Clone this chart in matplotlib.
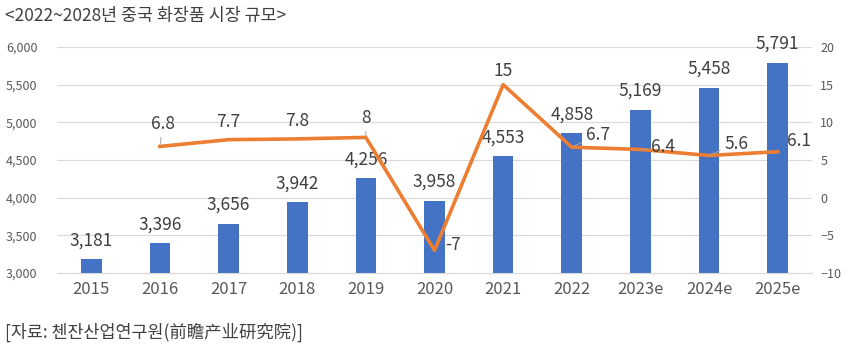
import matplotlib.pyplot as plt
import numpy as np

plt.rcParams['font.family'] = ['Noto Sans CJK KR', 'DejaVu Sans']

# 시장 규모 (억 위안) 와 성장률 (%)
years = ['2015', '2016', '2017', '2018', '2019', '2020', '2021', '2022', '2023e', '2024e', '2025e']
market = [3181, 3396, 3656, 3942, 4256, 3958, 4553, 4858, 5169, 5458, 5791]
growth = [None, 6.8, 7.7, 7.8, 8, -7, 15, 6.7, 6.4, 5.6, 6.1]

fig = plt.figure(figsize=(8.47, 3.52), dpi=100)
ax = fig.add_axes([0.0673, 0.2244, 0.8914, 0.6421])
x = np.arange(len(years))

ax.bar(x, market, width=0.3, color='#4472C4', zorder=2)
ax.set_ylim(3000, 6000)
ax.set_yticks(range(3000, 6001, 500))
ax.set_yticklabels([f'{v:,}' for v in range(3000, 6001, 500)])
ax.set_xlim(-0.5, len(years) - 0.5)
ax.set_xticks(x)
ax.set_xticklabels(years, fontsize=12, color='#595959')
ax.grid(axis='y', color='#D9D9D9', linewidth=0.8, zorder=0)
ax.tick_params(axis='y', labelsize=9, colors='#595959', length=0, pad=14)
ax.tick_params(axis='x', length=0, pad=6)
for s in ax.spines.values():
    s.set_visible(False)
ax.spines['bottom'].set_visible(True)
ax.spines['bottom'].set_color('#D9D9D9')

for xi, v in zip(x, market):
    ax.annotate(f'{v:,}', (xi, v), xytext=(0, 13.5), textcoords='offset points',
                ha='center', va='center', fontsize=12.5, color='#404040')

ax2 = ax.twinx()
ax2.set_ylim(-10, 20)
ax2.set_yticks(range(-10, 21, 5))
ax2.tick_params(axis='y', labelsize=9, colors='#595959', length=0, pad=6)
for s in ax2.spines.values():
    s.set_visible(False)

gx = [xi for xi, g in zip(x, growth) if g is not None]
gy = [g for g in growth if g is not None]
ax2.plot(gx, gy, color='#ED7D31', linewidth=2.6, zorder=3)

# 라벨 위치 (points), 지시선 여부
offsets = [(2, 16), (0, 13), (0, 13), (0, 14), (13.5, 4), (0, 10), (19, 9), (16.5, 1.5), (19.5, 8.6), (15, 8)]
leaders = [True, False, False, True, False, False, True, True, True, False]
for xi, g, off, ld in zip(gx, gy, offsets, leaders):
    arrow = dict(arrowstyle='-', color='#A6A6A6', lw=0.7, shrinkA=1, shrinkB=1) if ld else None
    ax2.annotate(f'{g:g}', (xi, g), xytext=off, textcoords='offset points',
                 ha='center', va='center', fontsize=12.5, color='#404040',
                 arrowprops=arrow, zorder=4)

fig.text(0.006, 0.955, '<2022~2028년 중국 화장품 시장 규모>', fontsize=12.5, color='#404040', va='center')
fig.text(0.006, 0.055, '[자료: 첸잔산업연구원(前瞻产业研究院)]', fontsize=12.5, color='#404040', va='center')

fig.savefig('out.png', dpi=100)
